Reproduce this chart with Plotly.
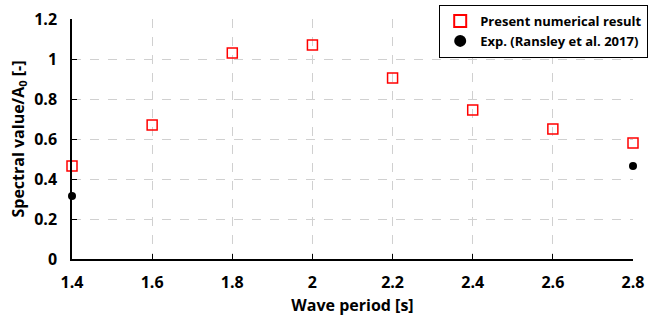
import plotly.graph_objects as go

periods = [1.4, 1.6, 1.8, 2.0, 2.2, 2.4, 2.6, 2.8]
numerical = [0.465, 0.67, 1.03, 1.07, 0.905, 0.745, 0.65, 0.58]
exp_periods = [1.4, 2.8]
exp_values = [0.315, 0.465]

x_ticks = [1.4, 1.6, 1.8, 2.0, 2.2, 2.4, 2.6, 2.8]
x_ticklabels = ["1.4", "1.6", "1.8", "2", "2.2", "2.4", "2.6", "2.8"]
y_ticks = [0, 0.2, 0.4, 0.6, 0.8, 1.0, 1.2]
y_ticklabels = ["0", "0.2", "0.4", "0.6", "0.8", "1", "1.2"]

font_family = "Open Sans, Liberation Sans, Arial"

fig = go.Figure()
fig.add_trace(go.Scatter(
    x=periods, y=numerical, mode="markers", name="<b>Present numerical result</b>",
    marker=dict(symbol="square-open", size=10, color="#ff0000", line=dict(width=1.5)),
    cliponaxis=False,
))
fig.add_trace(go.Scatter(
    x=exp_periods, y=exp_values, mode="markers", name="<b>Exp. (Ransley et al. 2017)</b>",
    marker=dict(symbol="circle", size=8, color="#000000"),
    cliponaxis=False,
))

fig.update_layout(
    width=648, height=322,
    margin=dict(l=72, r=15, t=19, b=63, autoexpand=False),
    paper_bgcolor="white", plot_bgcolor="white",
    font=dict(family=font_family, size=15, color="#000000"),
    showlegend=True,
    legend=dict(
        xref="container", yref="container",
        x=1.0, y=0.985, xanchor="right", yanchor="top",
        bordercolor="#000000", borderwidth=1.2, bgcolor="white",
        font=dict(size=13, family=font_family),
        tracegroupgap=6, itemsizing="constant", itemwidth=30,
    ),
    xaxis=dict(
        range=[1.4, 2.8], tickvals=x_ticks, ticktext=[f"<b>{t}</b>" for t in x_ticklabels],
        showgrid=True, gridcolor="#d0d0d0", griddash="dash", gridwidth=1,
        showline=True, linecolor="#000000", linewidth=1.5,
        ticks="inside", ticklen=5, tickcolor="#000000",
        tickfont=dict(size=16), ticklabelstandoff=8,
        title=dict(text="<b>Wave period [s]</b>", standoff=8, font=dict(size=16)),
        zeroline=False,
    ),
    yaxis=dict(
        range=[0, 1.2], tickvals=y_ticks, ticktext=[f"<b>{t}</b>" for t in y_ticklabels],
        showgrid=True, gridcolor="#d0d0d0", griddash="dash", gridwidth=1,
        showline=True, linecolor="#000000", linewidth=1.5,
        ticks="inside", ticklen=5, tickcolor="#000000",
        tickfont=dict(size=16), ticklabelstandoff=10,
        title=dict(text="<b>Spectral value/A<sub>0</sub> [-]</b>", standoff=6, font=dict(size=16)),
        zeroline=False,
    ),
)

fig.write_html("out.html")
